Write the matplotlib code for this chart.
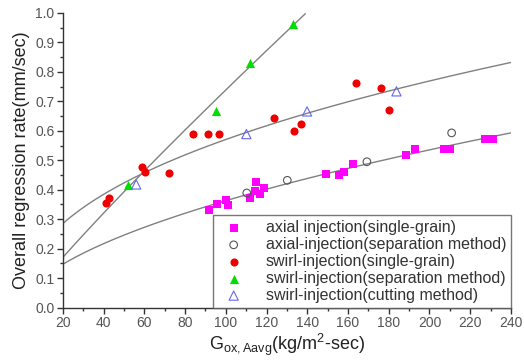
import numpy as np
import matplotlib.pyplot as plt
from matplotlib.ticker import MultipleLocator

plt.rcParams['font.family'] = ['Liberation Sans', 'DejaVu Sans']
plt.rcParams['mathtext.fontset'] = 'custom'
plt.rcParams['mathtext.rm'] = 'Liberation Sans'
plt.rcParams['mathtext.default'] = 'regular'

# axial injection (single-grain)
axial_sg_x = [91.7, 95.9, 100.3, 101.2, 112.1, 114.9, 114.5, 116.8, 118.6, 149.4,
              155.8, 157.9, 162.5, 188.4, 192.9, 207.1, 210.0, 227.2, 231.2]
axial_sg_y = [0.330, 0.350, 0.366, 0.348, 0.371, 0.426, 0.396, 0.385, 0.407, 0.453,
              0.451, 0.461, 0.489, 0.518, 0.540, 0.539, 0.539, 0.571, 0.573]

# axial-injection (separation method)
axial_sep_x = [110.3, 130.2, 169.3, 210.9]
axial_sep_y = [0.389, 0.432, 0.495, 0.593]

# swirl-injection (single-grain)
swirl_sg_x = [41.2, 42.8, 58.8, 60.1, 72.3, 83.9, 91.1, 96.9, 123.5, 133.3,
              136.9, 164.1, 176.0, 180.2]
swirl_sg_y = [0.356, 0.371, 0.478, 0.461, 0.456, 0.588, 0.588, 0.590, 0.644, 0.600,
              0.622, 0.761, 0.747, 0.672]

# swirl-injection (separation method)
swirl_sep_x = [51.8, 95.0, 111.8, 133.0]
swirl_sep_y = [0.415, 0.669, 0.830, 0.961]

# swirl-injection (cutting method)
swirl_cut_x = [56.0, 110.1, 139.9, 183.8]
swirl_cut_y = [0.418, 0.589, 0.666, 0.734]

# power-law fit curves r = a * G^n
fit_curves = [  # (a, n, x_end)
    (0.01113, 0.911, 139.0),
    (0.0784, 0.431, 240.0),
    (0.0274, 0.561, 240.0),
]

fig, ax = plt.subplots(figsize=(5.24, 3.61), dpi=100)
fig.subplots_adjust(left=0.12, right=0.975, top=0.964, bottom=0.148)

for a, n_exp, x_end in fit_curves:
    g = np.linspace(20, x_end, 200)
    ax.plot(g, a * g ** n_exp, color='#808080', lw=1.0, zorder=1)

ax.scatter(axial_sg_x, axial_sg_y, marker='s', s=26, color='#ff00ff', lw=0,
           label='axial injection(single-grain)', zorder=3)
ax.scatter(axial_sep_x, axial_sep_y, marker='o', s=30, facecolor='none',
           edgecolor='#555555', lw=0.8, label='axial-injection(separation method)', zorder=3)
ax.scatter(swirl_sg_x, swirl_sg_y, marker='o', s=34, color='#ee0000', lw=0,
           label='swirl-injection(single-grain)', zorder=3)
ax.scatter(swirl_sep_x, swirl_sep_y, marker='^', s=44, color='#00dd00', lw=0,
           label='swirl-injection(separation method)', zorder=3)
ax.scatter(swirl_cut_x, swirl_cut_y, marker='^', s=44, facecolor='none',
           edgecolor='#6666ee', lw=0.8, label='swirl-injection(cutting method)', zorder=3)

ax.set_xlim(20, 240)
ax.set_ylim(0, 1.0)
ax.xaxis.set_major_locator(MultipleLocator(20))
ax.xaxis.set_minor_locator(MultipleLocator(10))
ax.yaxis.set_major_locator(MultipleLocator(0.1))
ax.yaxis.set_minor_locator(MultipleLocator(0.05))
ax.set_yticks(np.arange(0, 1.01, 0.1))
ax.set_yticklabels(['%.1f' % v for v in np.arange(0, 1.01, 0.1)])

for side in ['top', 'right']:
    ax.spines[side].set_visible(False)
for side in ['left', 'bottom']:
    ax.spines[side].set_color('#333333')
    ax.spines[side].set_linewidth(1.0)

ax.tick_params(which='major', direction='out', length=4, width=1.0, color='#333333',
               labelsize=10, labelcolor='#555555', pad=2)
ax.tick_params(which='minor', direction='out', length=2, width=1.0, color='#333333')

ax.set_ylabel('Overall regression rate(mm/sec)', fontsize=13, color='#222222', labelpad=4)
ax.set_xlabel(r'G$_{\mathregular{ox,Aavg}}$(kg/m$^{\mathregular{2}}$-sec)', fontsize=13,
              color='#222222', labelpad=1)

leg = ax.legend(loc='lower right', bbox_to_anchor=(1.0, 0.0), fontsize=11.5,
                frameon=True, fancybox=False, borderaxespad=0.0, handletextpad=1.0,
                labelspacing=0.12, borderpad=0.3, handlelength=2.0)
leg.get_frame().set_edgecolor('#555555')
leg.get_frame().set_linewidth(1.0)
for t in leg.get_texts():
    t.set_color('#333333')

plt.savefig('out.png', dpi=100)
